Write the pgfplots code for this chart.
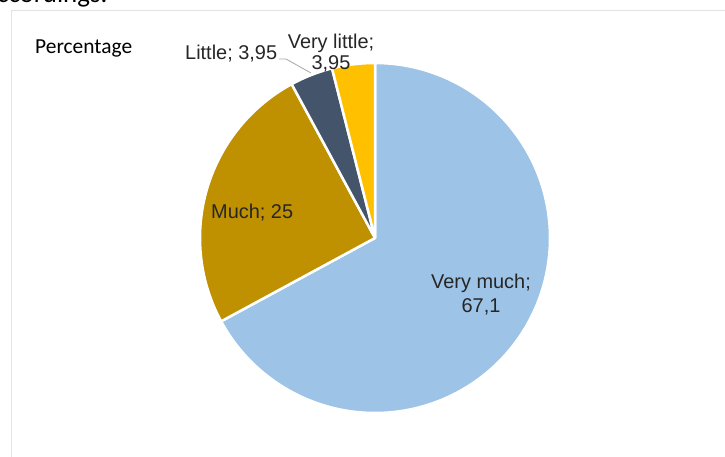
\documentclass[border=0pt]{standalone}
\usepackage{pgfplots}
\pgfplotsset{compat=1.18}
\usepackage{fontspec}
\setmainfont{Liberation Sans}
\newfontfamily\calibri{Carlito}
\definecolor{cVM}{HTML}{9DC3E6}
\definecolor{cM}{HTML}{BF9000}
\definecolor{cL}{HTML}{44546A}
\definecolor{cVL}{HTML}{FFC000}
\definecolor{txt}{HTML}{262626}
\definecolor{frame}{HTML}{E3E3E3}
% data (percentages)
\def\vVM{67.1}
\def\vM{25}
\def\vL{3.95}
\def\vVL{3.95}
\pgfmathsetmacro\aA{90}
\pgfmathsetmacro\aB{\aA-3.6*\vVM}
\pgfmathsetmacro\aC{\aB-3.6*\vM}
\pgfmathsetmacro\aD{\aC-3.6*\vL}
\pgfmathsetmacro\aE{\aD-3.6*\vVL}
\begin{document}
\begin{tikzpicture}
\begin{axis}[scale only axis, width=725bp, height=457bp,
  xmin=0, xmax=725, ymin=0, ymax=457, hide axis, clip=false]
\draw[frame, line width=1bp] (axis cs:11,0) -- (axis cs:11,446) -- (axis cs:725,446);
\addplot[fill=cVM, draw=white, line width=2.5bp, line join=round, domain=\aB:\aA, samples=150, variable=\t]
  ({375+175*cos(\t)}, {219+175*sin(\t)}) -- (axis cs:375,219) -- cycle;
\addplot[fill=cM, draw=white, line width=2.5bp, line join=round, domain=\aC:\aB, samples=80, variable=\t]
  ({375+175*cos(\t)}, {219+175*sin(\t)}) -- (axis cs:375,219) -- cycle;
\addplot[fill=cL, draw=white, line width=2.5bp, line join=round, domain=\aD:\aC, samples=20, variable=\t]
  ({375+175*cos(\t)}, {219+175*sin(\t)}) -- (axis cs:375,219) -- cycle;
\addplot[fill=cVL, draw=white, line width=2.5bp, line join=round, domain=\aE:\aD, samples=20, variable=\t]
  ({375+175*cos(\t)}, {219+175*sin(\t)}) -- (axis cs:375,219) -- cycle;
\draw[color=gray!70, line width=0.8bp] (axis cs:279,398) -- (axis cs:286,398) -- (axis cs:311,384);
\node[anchor=base west, font=\calibri\fontsize{21.5}{24}\selectfont, text=black, inner sep=0] at (axis cs:35,403) {Percentage};
\node[anchor=base west, font=\fontsize{20}{22}\selectfont, text=txt, inner sep=0] at (axis cs:185,397) {Little; 3,95};
\node[anchor=base, font=\fontsize{20}{22}\selectfont, text=txt, inner sep=0] at (axis cs:331,408) {Very little;};
\node[anchor=base, font=\fontsize{20}{22}\selectfont, text=txt, inner sep=0] at (axis cs:331,387) {3,95};
\node[anchor=base west, font=\fontsize{20}{22}\selectfont, text=txt, inner sep=0] at (axis cs:211,238) {Much; 25};
\node[anchor=base, font=\fontsize{20}{22}\selectfont, text=txt, inner sep=0] at (axis cs:481,168) {Very much;};
\node[anchor=base, font=\fontsize{20}{22}\selectfont, text=txt, inner sep=0] at (axis cs:481,144) {67,1};
\node[anchor=base west, font=\calibri\fontsize{27}{30}\selectfont, text=black, inner sep=0] at (axis cs:-3,454) {ccordings.};
\end{axis}
\pgfresetboundingbox
\useasboundingbox (0,0) rectangle (725bp,457bp);
\end{tikzpicture}
\end{document}
